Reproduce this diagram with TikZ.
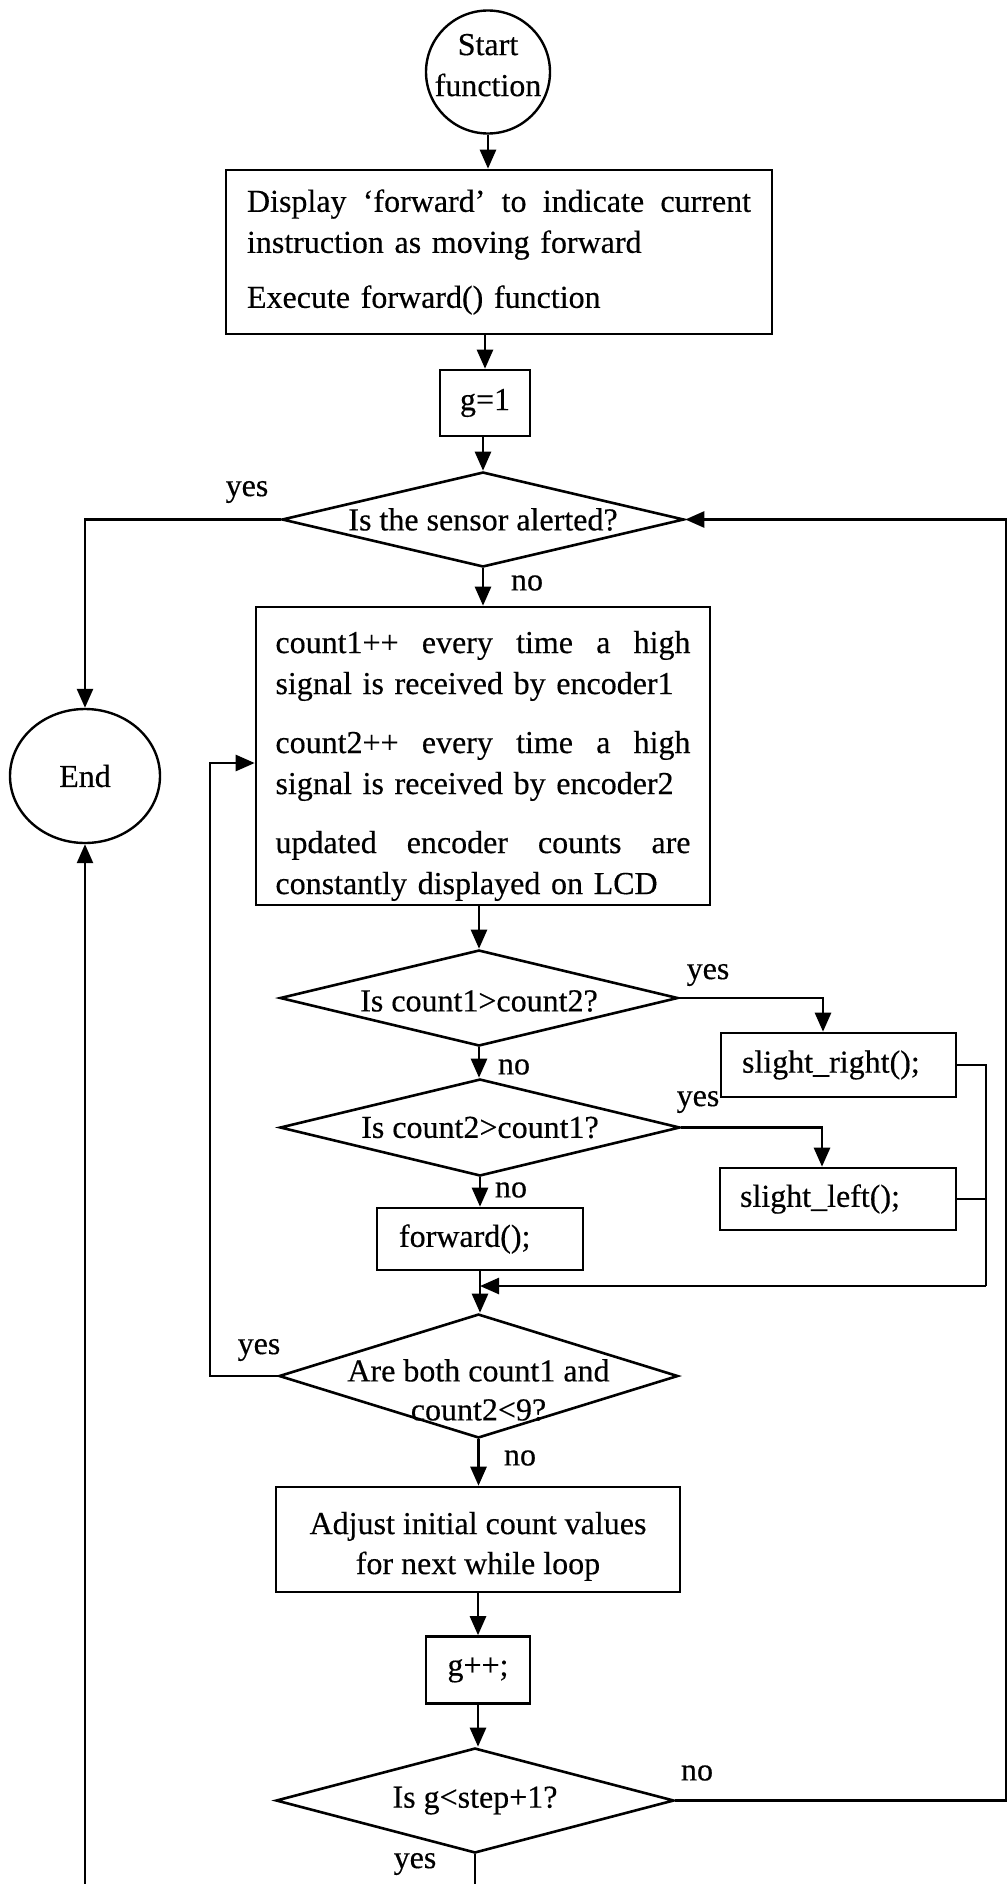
\documentclass[tikz,border=0pt]{standalone}
\usepackage{fontspec}
\setmainfont[FakeBold=0.4]{Liberation Serif}
\usetikzlibrary{arrows.meta,shapes.geometric,calc}
\newcommand{\jline}[2]{\leavevmode\hbox to #1{#2}}
\begin{document}
\begin{tikzpicture}[x=1pt,y=-1pt,
  every node/.style={font=\fontsize{32}{41}\selectfont},
  box/.style={draw,line width=2.6pt,rectangle,inner sep=0pt},
  dec/.style={draw,line width=2.6pt,diamond,aspect=1,inner sep=0pt},
  term/.style={draw,line width=2.4pt,ellipse,inner sep=-12pt},
  lbl/.style={inner sep=0pt},
  arr/.style={line width=2.6pt,-{Triangle[length=19pt,width=16pt]}},
  ln/.style={line width=2.6pt},
]
\useasboundingbox (0,0) rectangle (1008,1884);

% nodes
\node[term,minimum width=124pt,minimum height=123pt,align=center] (start) at (488,72)
  {Start\\function\rule[-14pt]{0pt}{14pt}};
\node[box,minimum width=546pt,minimum height=164pt,text width=504pt,align=left] (box1) at (499,252)
  {\jline{504pt}{Display\hfill ‘forward’\hfill to\hfill indicate\hfill current}\\
   instruction as moving forward\\[14pt]
   Execute forward() function};
\node[box,minimum width=90pt,minimum height=66pt] (g1) at (485,403) {g=1};
\node[dec,minimum width=402pt,minimum height=95pt] (d1) at (483,519.5) {};
\node[lbl] (d1t) at (d1.center) {Is the sensor alerted?};
\node[term,minimum width=150pt,minimum height=134pt] (end) at (85,776) {End};
\node[box,minimum width=454pt,minimum height=298pt,text width=415pt,align=left] (box2) at (483,756)
  {\jline{415pt}{\rule{0pt}{42pt}count1++\hfill every\hfill time\hfill a\hfill high}\\
   signal is received by encoder1\\[18pt]
   \jline{415pt}{count2++\hfill every\hfill time\hfill a\hfill high}\\
   signal is received by encoder2\\[18pt]
   \jline{415pt}{updated\hfill encoder\hfill counts\hfill are}\\
   constantly displayed on LCD};
\node[dec,minimum width=398pt,minimum height=96pt] (d2) at (479,998) {};
\node[lbl] (d2t) at ([yshift=-3pt]d2.center) {Is count1>count2?};
\node[box,minimum width=235pt,minimum height=64pt,text width=193pt,align=left] (sr) at (838.5,1065) {slight\_right();};
\node[dec,minimum width=400pt,minimum height=97pt] (d3) at (480,1127.5) {};
\node[lbl] (d3t) at (d3.center) {Is count2>count1?};
\node[box,minimum width=236pt,minimum height=62pt,text width=196pt,align=left] (sl) at (838,1199) {slight\_left();};
\node[box,minimum width=206pt,minimum height=62pt,text width=162pt,align=left] (fwd) at (480,1239) {forward();};
\node[dec,minimum width=399pt,minimum height=124pt] (d4) at (478.5,1376) {};
\node[lbl,align=center] (d4t) at ([yshift=-14pt]d4.center) {Are both count1 and\\[-2pt]count2<9?};
\node[box,minimum width=404pt,minimum height=105pt,align=center] (adj) at (478,1539.5)
  {\rule{0pt}{36pt}Adjust initial count values\\[-1pt]for next while loop};
\node[box,minimum width=104pt,minimum height=67pt] (gpp) at (478,1670) {g++;};
\node[dec,minimum width=398pt,minimum height=105pt] (d5) at (475,1800.5) {};
\node[lbl] (d5t) at (d5.center) {Is g<step+1?};

% labels
\node[lbl] (l1) at (247,492) {yes};
\node[lbl] (l2) at (527,583) {no};
\node[lbl] (l3) at (708,975) {yes};
\node[lbl] (l4) at (514,1067) {no};
\node[lbl] (l5) at (698,1102) {yes};
\node[lbl] (l6) at (511,1190) {no};
\node[lbl] (l7) at (259,1350) {yes};
\node[lbl] (l8) at (520,1458) {no};
\node[lbl] (l9) at (697,1773) {no};
\node[lbl] (l10) at (415,1864) {yes};

% coordinates
\coordinate (lp) at (210,763);
\coordinate (rj) at (986,1286);
\coordinate (re) at (1006,1200);
\coordinate (yb) at (475,1884);
\coordinate (eb) at (85,1884);

% connectors
\draw[arr] (start.south) -- (start.south |- box1.north);
\draw[arr] (g1.north |- box1.south) -- (g1.north);
\draw[arr] (d1.north |- g1.south) -- (d1.north);
\draw[arr] (d1.west) -| (end.north);
\draw[arr] (d1.south) -- (d1.south |- box2.north);
\draw[arr] (d2.north |- box2.south) -- (d2.north);
\draw[arr] (d2.east) -| ([xshift=-15.5pt]sr.north);
\draw[arr] (d2.south) -- (d2.south |- d3.north);
\draw[arr] (d3.east) -| ([xshift=-16pt]sl.north);
\draw[arr] (d3.south) -- (d3.south |- fwd.north);
\draw[ln] (sr.east) -| (rj);
\draw[ln] (sl.east) -- (sl.east -| rj);
\draw[arr] (rj) -- (rj -| fwd.south);
\draw[arr] (fwd.south) -- (fwd.south |- d4.north);
\draw[arr] (d4.west) -| (lp) -- (lp -| box2.west);
\draw[arr] (d4.south) -- (d4.south |- adj.north);
\draw[arr] (adj.south) -- (adj.south |- gpp.north);
\draw[arr] (gpp.south) -- (gpp.south |- d5.north);
\draw[arr] (d5.east) -| (re) |- (d1.east);
\draw[ln] (d5.south) -- (d5.south |- yb);
\draw[arr] (eb) -- (end.south);
\end{tikzpicture}
\end{document}
